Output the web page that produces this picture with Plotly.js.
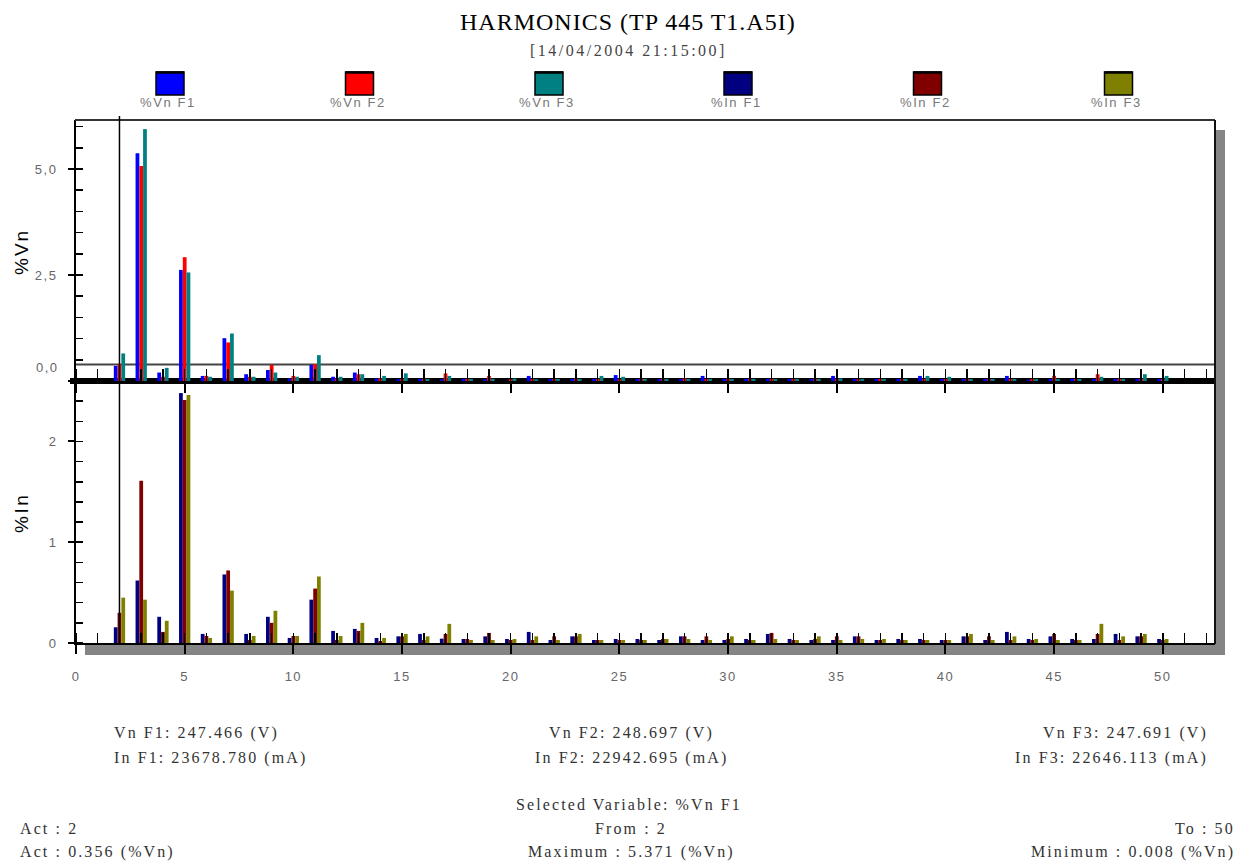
<!DOCTYPE html>
<html>
<head>
<meta charset="utf-8">
<script src="https://cdn.plot.ly/plotly-3.0.1.min.js"></script>
<style>
  html, body { margin: 0; padding: 0; background: #ffffff; }
  #chart { width: 1250px; height: 865px; }
  #chart .xaxislayer-above text, #chart .yaxislayer-above text { letter-spacing: 1.5px; }
</style>
</head>
<body>
<div id="chart"></div>
<script>
// Harmonic orders 2..50
const harmonics = [];
for (let h = 2; h <= 50; h++) harmonics.push(h);

// Voltage harmonic distortion per phase (%Vn)
const vnF1 = [0.356,5.371,0.20,2.62,0.12,1.01,0.16,0.26,0.06,0.38,0.10,0.20,0.06,0.04,0.05,0.04,0.05,0.04,0.008,0.12,0.05,0.05,0.05,0.14,0.05,0.04,0.05,0.12,0.05,0.05,0.05,0.05,0.05,0.12,0.05,0.05,0.05,0.12,0.05,0.05,0.05,0.12,0.03,0.05,0.05,0.05,0.05,0.05,0.05];
const vnF2 = [0.40,5.07,0.10,2.92,0.12,0.91,0.10,0.38,0.12,0.40,0.06,0.16,0.06,0.05,0.05,0.18,0.05,0.12,0.04,0.05,0.05,0.05,0.05,0.04,0.05,0.05,0.06,0.05,0.05,0.05,0.05,0.05,0.05,0.05,0.04,0.05,0.05,0.05,0.05,0.05,0.05,0.05,0.05,0.12,0.05,0.16,0.05,0.05,0.05];
const vnF3 = [0.65,5.94,0.31,2.56,0.10,1.12,0.10,0.20,0.10,0.61,0.10,0.16,0.12,0.18,0.05,0.12,0.05,0.05,0.06,0.04,0.05,0.05,0.12,0.10,0.05,0.05,0.05,0.05,0.05,0.05,0.05,0.05,0.05,0.06,0.05,0.05,0.05,0.12,0.10,0.05,0.05,0.05,0.05,0.05,0.05,0.10,0.05,0.16,0.12];

// Current harmonic distortion per phase (%In)
const inF1 = [0.156,0.62,0.26,2.48,0.09,0.68,0.09,0.26,0.05,0.43,0.12,0.14,0.05,0.066,0.09,0.043,0.04,0.066,0.04,0.11,0.03,0.066,0.03,0.04,0.04,0.03,0.066,0.03,0.03,0.04,0.09,0.04,0.03,0.03,0.066,0.03,0.04,0.04,0.03,0.066,0.03,0.11,0.04,0.066,0.04,0.04,0.09,0.066,0.04];
const inF2 = [0.30,1.61,0.11,2.41,0.07,0.72,0.03,0.20,0.07,0.54,0.03,0.12,0.02,0.066,0.03,0.09,0.04,0.10,0.03,0.03,0.066,0.066,0.03,0.03,0.03,0.04,0.066,0.066,0.04,0.03,0.10,0.03,0.04,0.066,0.066,0.03,0.03,0.03,0.03,0.066,0.066,0.03,0.03,0.09,0.03,0.09,0.03,0.066,0.03];
const inF3 = [0.45,0.43,0.22,2.46,0.05,0.52,0.07,0.32,0.07,0.66,0.07,0.20,0.05,0.09,0.066,0.19,0.03,0.03,0.04,0.066,0.03,0.09,0.03,0.03,0.03,0.04,0.04,0.03,0.066,0.03,0.04,0.03,0.066,0.03,0.04,0.04,0.03,0.03,0.03,0.09,0.03,0.066,0.04,0.03,0.03,0.19,0.066,0.09,0.04];

const seriesNames = ['%Vn F1', '%Vn F2', '%Vn F3', '%In F1', '%In F2', '%In F3'];
const seriesColors = ['#0000ff', '#ff0000', '#008080', '#000080', '#800000', '#808000'];

// Axis tick labels
const vnTickVals = [0, 2.5, 5];
const vnTickText = ['', '2,5', '5,0'];
const vnZeroLabel = '0,0';

// Cursor and summary texts
const selectedHarmonic = 2;
const titleText = 'HARMONICS (TP 445 T1.A5I)';
const subtitleText = '[14/04/2004 21:15:00]';
const phaseInfo = [
  ['Vn F1: 247.466 (V)', 'In F1: 23678.780 (mA)'],
  ['Vn F2: 248.697 (V)', 'In F2: 22942.695 (mA)'],
  ['Vn F3: 247.691 (V)', 'In F3: 22646.113 (mA)']
];
const selectedVariable = 'Selected Variable: %Vn F1';
const footerLeft = ['Act : 2', 'Act : 0.356 (%Vn)'];
const footerMid = ['From : 2', 'Maximum : 5.371 (%Vn)'];
const footerRight = ['To : 50', 'Minimum : 0.008 (%Vn)'];

// ---- page geometry (plot area in pixels) ----
const W = 1250, H = 865;
const PL = 76, PR = 1215, PT = 120, PB = 643;
const px = v => (v - PL) / (PR - PL);
const py = v => (PB - v) / (PB - PT);

const sansFont = 'Liberation Sans, Arial, sans-serif';
const serifFont = 'Liberation Serif, Times New Roman, serif';

// wide letter spacing used by the report texts
const spaced = (t, s) => '<span style="letter-spacing:' + s + 'px">' + t + '</span>';

const vnSeries = [vnF1, vnF2, vnF3];
const inSeries = [inF1, inF2, inF3];

const traces = [];
vnSeries.forEach((vals, i) => {
  traces.push({
    type: 'bar', x: harmonics, y: vals, name: seriesNames[i],
    xaxis: 'x2', yaxis: 'y2',
    marker: { color: seriesColors[i], line: { width: 0 } },
    hoverinfo: 'skip'
  });
});
inSeries.forEach((vals, i) => {
  traces.push({
    type: 'bar', x: harmonics, y: vals, name: seriesNames[i + 3],
    xaxis: 'x', yaxis: 'y',
    marker: { color: seriesColors[i + 3], line: { width: 0 } },
    hoverinfo: 'skip'
  });
});

const xRange = [0, 52.4];
const tickFont = { family: sansFont, size: 13, color: '#666666' };

const shapes = [];
const annotations = [];

// drop shadow of the chart frame
shapes.push({ type: 'rect', xref: 'paper', yref: 'paper', layer: 'below',
  x0: px(85), x1: px(1225), y0: py(655), y1: py(644),
  fillcolor: '#858585', line: { width: 0 } });
shapes.push({ type: 'rect', xref: 'paper', yref: 'paper', layer: 'below',
  x0: px(1216), x1: px(1225), y0: py(655), y1: py(130),
  fillcolor: '#858585', line: { width: 0 } });

// divider between the two panels
shapes.push({ type: 'rect', xref: 'paper', yref: 'paper', layer: 'below',
  x0: px(70), x1: px(1215), y0: py(384), y1: py(378),
  fillcolor: '#000000', line: { width: 0 } });
shapes.push({ type: 'line', xref: 'paper', yref: 'paper', layer: 'below',
  x0: px(76), x1: px(1215), y0: py(364.5), y1: py(364.5),
  line: { color: '#444444', width: 2 } });

// frame top and right edges
shapes.push({ type: 'line', xref: 'paper', yref: 'paper',
  x0: px(75), x1: px(1215), y0: py(120), y1: py(120),
  line: { color: '#333333', width: 2 } });
shapes.push({ type: 'line', xref: 'paper', yref: 'paper',
  x0: px(1215), x1: px(1215), y0: py(120), y1: py(644),
  line: { color: '#111111', width: 2 } });

// selected harmonic cursor
shapes.push({ type: 'line', xref: 'x', yref: 'paper',
  x0: selectedHarmonic, x1: selectedHarmonic, y0: 0, y1: py(116),
  line: { color: '#000000', width: 1.5 } });

// legend swatches and labels
const legendCenters = [170, 359.5, 549, 738, 927.5, 1118.5];
seriesNames.forEach((name, i) => {
  const c = legendCenters[i];
  shapes.push({ type: 'rect', xref: 'paper', yref: 'paper',
    x0: px(c - 14), x1: px(c + 14), y0: py(95), y1: py(72),
    fillcolor: seriesColors[i], line: { color: '#000000', width: 1.5 } });
  shapes.push({ type: 'line', xref: 'paper', yref: 'paper',
    x0: px(c - 14), x1: px(c + 14), y0: py(72.5), y1: py(72.5),
    line: { color: '#000000', width: 2.5 } });
  annotations.push({ xref: 'paper', yref: 'paper', x: px(c - 2), y: py(102),
    text: spaced(name, 1.6), showarrow: false, xanchor: 'center', yanchor: 'middle',
    font: { family: sansFont, size: 13, color: '#777777' } });
});

// titles
annotations.push({ xref: 'paper', yref: 'paper', x: px(628), y: py(22),
  text: spaced(titleText, 1), showarrow: false, xanchor: 'center', yanchor: 'middle',
  font: { family: serifFont, size: 24, color: '#000000' } });
annotations.push({ xref: 'paper', yref: 'paper', x: px(628), y: py(50),
  text: spaced(subtitleText, 2.5), showarrow: false, xanchor: 'center', yanchor: 'middle',
  font: { family: serifFont, size: 16, color: '#444444' } });

// y axis titles and the raised zero label of the upper panel
annotations.push({ xref: 'paper', yref: 'paper', x: px(21), y: py(252),
  text: spaced('%Vn', 2), showarrow: false, textangle: -90, xanchor: 'center', yanchor: 'middle',
  font: { family: sansFont, size: 19, color: '#000000' } });
annotations.push({ xref: 'paper', yref: 'paper', x: px(21), y: py(513),
  text: spaced('%In', 2.5), showarrow: false, textangle: -90, xanchor: 'center', yanchor: 'middle',
  font: { family: sansFont, size: 19, color: '#000000' } });
annotations.push({ xref: 'paper', yref: 'paper', x: px(61), y: py(367),
  text: spaced(vnZeroLabel, 1.5), showarrow: false, xanchor: 'right', yanchor: 'middle',
  font: tickFont });

// summary block below the chart
const footFont = { family: serifFont, size: 16, color: '#333333' };
const footSpacing = 2.1;
const phaseX = [[112, 'left'], [631, 'center'], [1210, 'right']];
phaseInfo.forEach((lines, i) => {
  lines.forEach((t, j) => {
    annotations.push({ xref: 'paper', yref: 'paper', x: px(phaseX[i][0]), y: py(j === 0 ? 733 : 758),
      text: spaced(t, footSpacing), showarrow: false, xanchor: phaseX[i][1], yanchor: 'middle', font: footFont });
  });
});
annotations.push({ xref: 'paper', yref: 'paper', x: px(629), y: py(804),
  text: spaced(selectedVariable, footSpacing), showarrow: false, xanchor: 'center', yanchor: 'middle', font: footFont });
[[footerLeft, 18, 'left'], [footerMid, 631, 'center'], [footerRight, 1237, 'right']].forEach(([lines, xp, anchor]) => {
  lines.forEach((t, j) => {
    annotations.push({ xref: 'paper', yref: 'paper', x: px(xp), y: py(j === 0 ? 828 : 852),
      text: spaced(t, footSpacing), showarrow: false, xanchor: anchor, yanchor: 'middle', font: footFont });
  });
});

const lowerTop = (PB - 384) / (PB - PT);
const upperBottom = (PB - 383) / (PB - PT);

const layout = {
  width: W, height: H,
  margin: { l: PL, r: W - PR, t: PT, b: H - PB, pad: 0 },
  paper_bgcolor: '#ffffff',
  plot_bgcolor: 'rgba(0,0,0,0)',
  showlegend: false,
  barmode: 'group',
  bargap: 0.48,
  bargroupgap: 0,
  separators: ',.',
  // lower panel: current harmonics
  xaxis: {
    anchor: 'y', domain: [0, 1], range: xRange,
    showgrid: false, zeroline: false,
    showline: true, linecolor: '#000000', linewidth: 2,
    ticks: 'outside', tick0: 0, dtick: 5, ticklen: 9, tickwidth: 2, tickcolor: '#000000',
    minor: { ticks: 'inside', dtick: 1, tick0: 0, ticklen: 10, tickwidth: 1.5, tickcolor: '#000000' },
    tickfont: tickFont, ticklabelstandoff: 11
  },
  xaxis3: {
    overlaying: 'x', anchor: 'y', range: xRange,
    showgrid: false, zeroline: false, showline: false, showticklabels: false,
    ticks: 'inside', tick0: 0, dtick: 5, ticklen: 10, tickwidth: 2, tickcolor: '#000000'
  },
  yaxis: {
    anchor: 'x', domain: [0, lowerTop], range: [0, 2.57],
    showgrid: false, zeroline: false,
    showline: true, linecolor: '#000000', linewidth: 2,
    ticks: 'outside', tick0: 0, dtick: 1, ticklen: 6, tickwidth: 2, tickcolor: '#000000',
    minor: { ticks: 'inside', dtick: 0.2, tick0: 0, ticklen: 7, tickwidth: 1.5, tickcolor: '#000000' },
    tickfont: tickFont, ticklabelstandoff: 8
  },
  yaxis3: {
    overlaying: 'y', anchor: 'x', range: [0, 2.57],
    showgrid: false, zeroline: false, showline: false, showticklabels: false,
    ticks: 'inside', tick0: 0, dtick: 1, ticklen: 9, tickwidth: 2, tickcolor: '#000000'
  },
  // upper panel: voltage harmonics
  xaxis2: {
    anchor: 'y2', domain: [0, 1], range: xRange,
    showgrid: false, zeroline: false, showline: false, showticklabels: false,
    ticks: 'outside', tick0: 0, dtick: 5, ticklen: 9, tickwidth: 2, tickcolor: '#000000',
    minor: { ticks: 'inside', dtick: 1, tick0: 0, ticklen: 14, tickwidth: 1.5, tickcolor: '#000000' }
  },
  xaxis4: {
    overlaying: 'x2', anchor: 'y2', range: xRange,
    showgrid: false, zeroline: false, showline: false, showticklabels: false,
    ticks: 'inside', tick0: 0, dtick: 5, ticklen: 14, tickwidth: 1.5, tickcolor: '#000000'
  },
  yaxis2: {
    anchor: 'x2', domain: [upperBottom, 1], range: [-0.047, 6.155],
    showgrid: false, zeroline: false,
    showline: true, linecolor: '#000000', linewidth: 2,
    ticks: 'outside', tickmode: 'array', tickvals: vnTickVals, ticktext: vnTickText,
    ticklen: 6, tickwidth: 2, tickcolor: '#000000',
    minor: { ticks: 'inside', dtick: 0.5, tick0: 0, ticklen: 7, tickwidth: 1.5, tickcolor: '#000000' },
    tickfont: tickFont, ticklabelstandoff: 8
  },
  yaxis4: {
    overlaying: 'y2', anchor: 'x2', range: [-0.047, 6.155],
    showgrid: false, zeroline: false, showline: false, showticklabels: false,
    ticks: 'inside', tickmode: 'array', tickvals: vnTickVals,
    ticklen: 9, tickwidth: 2, tickcolor: '#000000'
  },
  shapes: shapes,
  annotations: annotations
};

Plotly.newPlot('chart', traces, layout, { staticPlot: true, displayModeBar: false });
</script>
</body>
</html>
